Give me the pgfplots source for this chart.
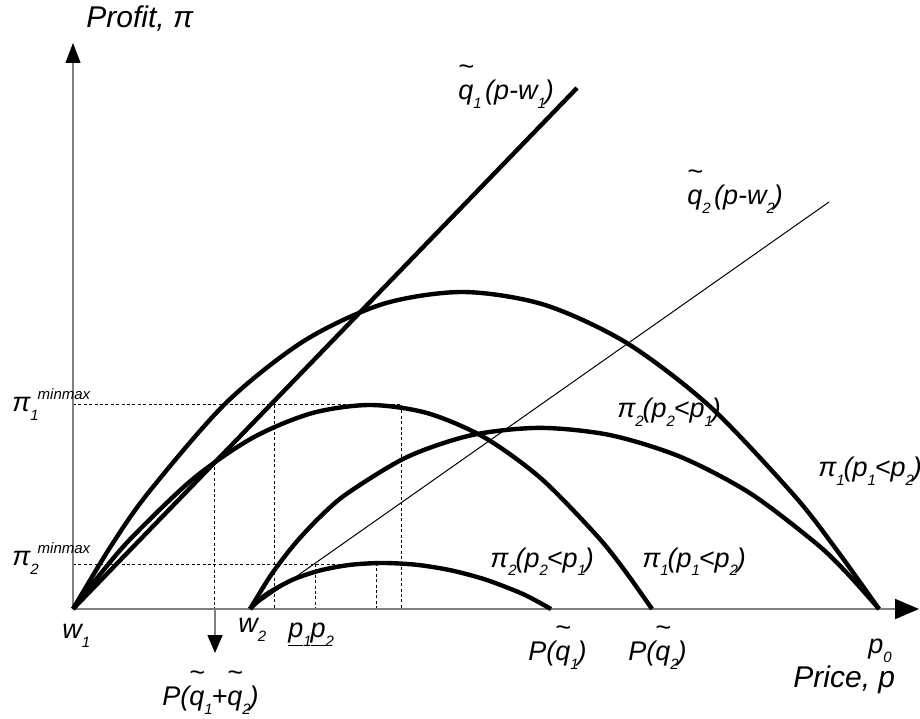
\documentclass[border=0pt]{standalone}
\usepackage{fontspec}
\setmainfont{Liberation Sans}
\usepackage{pgfplots}
\pgfplotsset{compat=1.18}
\usetikzlibrary{arrows.meta}

\definecolor{axisgray}{RGB}{128,128,128}

% lowered subscript, raised superscript and a floating tilde over q
\newcommand{\sub}[1]{\raisebox{-4.5pt}{\makebox[3.6pt][l]{\fontsize{7.5}{8}\selectfont #1}}}
\newcommand{\sups}[1]{\raisebox{6pt}{\fontsize{7.5}{8}\selectfont #1}}
\newcommand{\tq}{\ooalign{q\cr\hidewidth\raisebox{12pt}{\textasciitilde}\hidewidth\cr}}

\tikzset{
  lbl/.style={font=\itshape\fontsize{13.5}{15}\selectfont, inner sep=0pt, anchor=base west},
  ttl/.style={font=\itshape\fontsize{15}{17}\selectfont, inner sep=0pt, anchor=base west},
  curve/.style={line width=2.2pt, black, smooth, no markers},
  guide/.style={line width=0.5pt, black, dash pattern=on 1.5pt off 1.2pt, no markers},
}

\begin{document}
\begin{tikzpicture}
\begin{axis}[
  scale only axis, width=460pt, height=359pt,
  xmin=-73, xmax=847, ymin=-109, ymax=609,
  hide axis, clip=false,
]
% dotted guide lines
\addplot[guide] coordinates {(0,204) (328,204)};
\addplot[guide] coordinates {(0,45) (277,45)};
\addplot[guide] coordinates {(201,204) (201,0)};
\addplot[guide] coordinates {(328,204) (328,0)};
\addplot[guide] coordinates {(242,45) (242,0)};
\addplot[guide] coordinates {(303,46) (303,0)};
\addplot[guide] coordinates {(141,142) (141,0)};

% axes
\draw[axisgray, line width=1pt, -{Triangle[length=12pt,width=10pt,color=black]}]
  (axis cs:0,0) -- (axis cs:846,0);
\draw[axisgray, line width=0.6pt, -{Triangle[length=10pt,width=7.5pt,color=black]}]
  (axis cs:0,0) -- (axis cs:0,566);
\draw[axisgray, line width=0.8pt, -{Triangle[length=9pt,width=7.5pt,color=black]}]
  (axis cs:142,0) -- (axis cs:142,-44);

% revenue lines
\addplot[line width=2.2pt, black, no markers] coordinates {(0,0) (504,521)};
\addplot[line width=0.5pt, black, no markers] coordinates {(177,0) (756,407)};

% profit curves
\addplot[curve] coordinates {(0,0) (38,63) (75.9,117) (152.9,206) (230.9,268) (309.9,305)
  (390,317) (471.1,304.3) (553.3,266.3) (636.5,202.9) (720.7,114.1) (763,60) (806,0)};
\addplot[curve] coordinates {(0,0) (30.4,38.8) (60.6,73.4) (120.6,130.6) (180,171.4)
  (238.8,195.8) (297,204) (354.6,195.8) (411.6,171.4) (468,130.6) (523.8,73.4)
  (551.5,38.8) (579,0)};
\addplot[curve] coordinates {(177,0) (198.3,34.4) (221.8,65.2) (247.3,92.4) (274.7,115.9)
  (334.3,152.1) (398.9,173.9) (467,181.1) (537.1,173.9) (607.6,152.1) (676.9,115.9)
  (743.6,65.2) (775.4,34.4) (806,0)};
\addplot[curve] coordinates {(177,0) (186,8.7) (196.2,16.6) (219.9,29.4) (247.3,38.6)
  (277.6,44.2) (310,46) (343.7,44.2) (378.3,38.6) (412.6,29.4) (446.2,16.6) (462.3,8.7) (478,0)};

% labels
\node[ttl] at (axis cs:13,581) {Profit, π};
\node[ttl] at (axis cs:720,-78) {Price, p};
\node[lbl] at (axis cs:795,-44) {p\sub{0}};
\node[lbl] at (axis cs:-11,-29) {w\sub{1}};
\node[lbl] at (axis cs:165,-23) {w\sub{2}};
\node[lbl] at (axis cs:215,-28) {\underline{p}\sub{1}\underline{p}\sub{2}};
\node[lbl] at (axis cs:89,-96) {P(\tq\sub{1}+\tq\sub{2})};
\node[lbl] at (axis cs:455,-51) {P(\tq\sub{1})};
\node[lbl] at (axis cs:555,-51) {P(\tq\sub{2})};
\node[lbl] at (axis cs:385,509) {\tq\sub{1}\,(p-w\sub{1})};
\node[lbl] at (axis cs:614,404) {\tq\sub{2}\,(p-w\sub{2})};
\node[lbl] at (axis cs:544,191) {π\sub{2}(p\sub{2}<p\sub{1})};
\node[lbl] at (axis cs:745,132) {π\sub{1}(p\sub{1}<p\sub{2})};
\node[lbl] at (axis cs:417,42) {π\sub{2}(p\sub{2}<p\sub{1})};
\node[lbl] at (axis cs:569,42) {π\sub{1}(p\sub{1}<p\sub{2})};
\node[lbl] at (axis cs:-61,197) {π\sub{1}\sups{minmax}};
\node[lbl] at (axis cs:-61,44) {π\sub{2}\sups{minmax}};
\end{axis}
\pgfresetboundingbox
\path (current axis.south west) rectangle (current axis.north east);
\end{tikzpicture}
\end{document}
